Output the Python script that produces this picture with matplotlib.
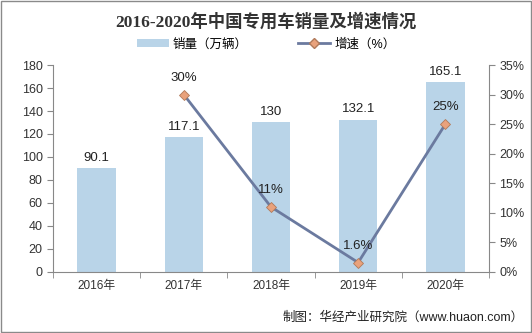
import matplotlib
matplotlib.use("Agg")
import matplotlib.pyplot as plt
from matplotlib.lines import Line2D
from matplotlib.patches import Patch, Rectangle
import numpy as np

plt.rcParams['font.family'] = ['Liberation Sans', 'Noto Sans CJK SC', 'DejaVu Sans']

years = ["2016年", "2017年", "2018年", "2019年", "2020年"]
sales = [90.1, 117.1, 130, 132.1, 165.1]
growth = [None, 30, 11, 1.6, 25]
growth_labels = ["", "30%", "11%", "1.6%", "25%"]

bar_color = "#B9D4E8"
line_color = "#6B7A9F"
marker_color = "#E9A27C"
axis_color = "#888888"

fig = plt.figure(figsize=(5.32, 3.33), dpi=100)
fig.patches.append(Rectangle((0.002, 0.003), 0.996, 0.994, transform=fig.transFigure,
                             fill=False, edgecolor="#8a8a8a", linewidth=1.0))
ax = fig.add_axes([0.0996, 0.1832, 0.8195, 0.6216])
x = np.arange(len(years))
ax.bar(x, sales, width=0.44, color=bar_color, zorder=1)
ax.set_xlim(-0.5, len(years) - 0.5)
ax.set_ylim(0, 180)
ax.set_yticks(range(0, 181, 20))
for xi, v in zip(x, sales):
    ax.text(xi, v + 4, f"{v:g}", ha="center", va="bottom", fontsize=9.5, color="#222222")

ax.set_xticks(x)
ax.set_xticklabels(years, fontsize=8.5, color="#333333")
ax.tick_params(axis="x", length=0, pad=6)
ax.set_xticks(np.arange(-0.5, len(years)), minor=True)
ax.tick_params(axis="x", which="minor", length=4, color=axis_color)
ax.tick_params(axis="y", labelsize=9, colors="#333333", length=4, color=axis_color)
for s in ["top", "right"]:
    ax.spines[s].set_visible(False)
ax.spines["left"].set_color(axis_color)
ax.spines["bottom"].set_color(axis_color)

ax2 = ax.twinx()
ax2.set_ylim(0, 35)
ax2.set_yticks(range(0, 36, 5))
ax2.set_yticklabels([f"{v}%" for v in range(0, 36, 5)])
ax2.tick_params(axis="y", labelsize=9, colors="#333333", length=4, color=axis_color)
for s in ["top", "left", "bottom"]:
    ax2.spines[s].set_visible(False)
ax2.spines["right"].set_color(axis_color)
gx = [xi for xi, g in zip(x, growth) if g is not None]
gy = [g for g in growth if g is not None]
ax2.plot(gx, gy, color=line_color, linewidth=2, marker="D", markersize=5.5,
         markerfacecolor=marker_color, markeredgecolor="#B07A5A", markeredgewidth=0.6, zorder=3)
for xi, g, lab in zip(x, growth, growth_labels):
    if g is None:
        continue
    ax2.text(xi, g + 1.8, lab, ha="center", va="bottom", fontsize=9.5, color="#222222")

fig.text(0.5, 0.935, "2016-2020年中国专用车销量及增速情况", ha="center", va="center",
         fontsize=12.5, fontweight="bold", color="#333333",
         family=['Liberation Serif', 'Noto Sans CJK SC'])

handles = [Patch(facecolor=bar_color, edgecolor="none"),
           Line2D([0], [0], color=line_color, linewidth=2, marker="D", markersize=5,
                  markerfacecolor=marker_color, markeredgecolor="#B07A5A")]
fig.legend(handles, ["销量（万辆）", "增速（%）"], loc="center", bbox_to_anchor=(0.5, 0.867),
           ncol=2, frameon=False, fontsize=9, handlelength=2.6, handleheight=0.5,
           columnspacing=4, handletextpad=0.3)

fig.text(0.985, 0.045, "制图：华经产业研究院（www.huaon.com）", ha="right", va="center",
         fontsize=9, color="#222222")

fig.savefig("out.png", dpi=100)
